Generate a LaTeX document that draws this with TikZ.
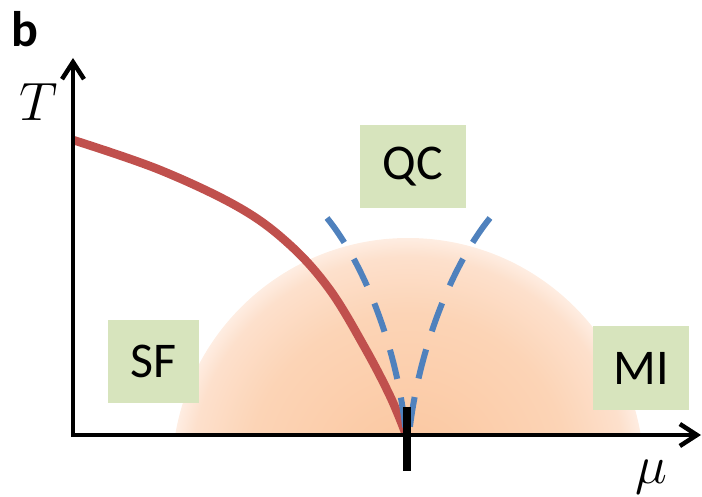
\documentclass[tikz,border=0pt]{standalone}
\usepackage{fontspec}
\newfontfamily\calibri{Carlito}
\usetikzlibrary{arrows.meta}
\definecolor{boxgreen}{RGB}{215,228,189}
\definecolor{curvered}{RGB}{192,80,77}
\definecolor{dashblue}{RGB}{79,129,189}
\definecolor{glowin}{RGB}{251,198,158}
\definecolor{glowmid}{RGB}{252,212,182}
\definecolor{glowrim}{RGB}{253,224,204}
\definecolor{glowout}{RGB}{254,237,226}
\pgfdeclareradialshading{glow}{\pgfpointorigin}{color(0bp)=(glowin); color(17bp)=(glowmid); color(23bp)=(glowrim); color(25bp)=(glowout); color(50bp)=(glowout)}
\tikzset{
  phase/.style={fill=boxgreen, minimum width=#1, minimum height=83pt, inner sep=0pt,
    font=\calibri\fontsize{50}{60}\selectfont},
  axis/.style={line width=4.5pt, -{Straight Barb[length=17pt,width=22pt]}},
  axislabel/.style={font=\Huge, scale=2.17},
}
\begin{document}
\begin{tikzpicture}[x=1pt, y=-1pt]
  \useasboundingbox (0,0) rectangle (702,497);
  \begin{scope}
    \clip (0,0) rectangle (702,435);
    \shade[shading=glow] (408,474) circle (236pt);
  \end{scope}
  \node[phase=91pt] (sf) at (153.5,361.5) {SF};
  \node[phase=106pt] (qc) at (413,166.5) {QC};
  \node[phase=96pt] (mi) at (641,368) {MI};
  \draw[curvered, line width=8.5pt] plot[smooth, tension=0.6] coordinates {(73,140) (160,170)
    (240,208) (290,245) (330,290) (365,348) (390,396) (405,432)};
  \draw[dashblue, line width=6pt, dash pattern=on 30pt off 19pt] (327,218)
    .. controls (365,265) and (398,350) .. (406,435);
  \draw[dashblue, line width=6pt, dash pattern=on 30pt off 19pt] (490,218)
    .. controls (452,265) and (418,350) .. (409,435);
  \coordinate (o) at (73,435);
  \coordinate (ty) at (73,58);
  \coordinate (mx) at (701,435);
  \draw[axis] ([yshift=-2pt]o) -- (ty);
  \draw[axis] ([xshift=-2pt]o) -- (mx);
  \draw[line width=7.5pt] (407,407) -- (407,471);
  \node[axislabel] (tlab) at (39,102) {$T$};
  \node[axislabel] (mulab) at (651,477) {$\mu$};
  \node[font=\calibri\bfseries\fontsize{50}{60}\selectfont] (panel) at (25,29) {b};
\end{tikzpicture}
\end{document}
